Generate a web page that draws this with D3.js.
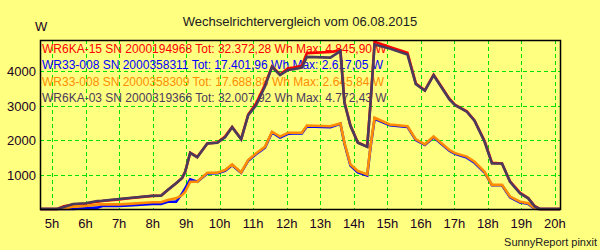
<!DOCTYPE html>
<html>
<head>
<meta charset="utf-8">
<script src="https://cdn.jsdelivr.net/npm/d3@7"></script>
<style>
  body { margin: 0; background: #ffff80; }
  svg { display: block; font-family: "Liberation Sans", Arial, sans-serif; }
</style>
</head>
<body>
<script>
const w = 600;
const h = 250;

// time of day in decimal hours
const hours = [4.65, 5.15, 5.35, 5.63, 6.0, 6.35, 6.5, 7.0, 7.3, 8.0, 8.25, 8.45, 8.7, 8.88, 8.97,
  9.12, 9.33, 9.63, 9.93, 10.16, 10.37, 10.64, 10.85, 11.08, 11.35, 11.56, 11.8, 12.04, 12.2,
  12.45, 12.6, 13.3, 13.6, 13.72, 13.9, 14.12, 14.4, 14.5, 14.62, 15.07, 15.6, 15.85, 16.12,
  16.38, 16.85, 17.02, 17.37, 17.6, 17.9, 18.12, 18.42, 18.66, 18.96, 19.2, 19.4, 19.55, 20.15];

const wr6ka15 = [0, 0, 80, 130, 150, 215, 230, 280, 310, 380, 385, 550, 750, 900, 1080,
  1630, 1510, 1900, 1930, 2100, 2380, 2030, 2740, 3050, 3600, 4130, 3900, 4080, 4100,
  4150, 4520, 4550, 4600, 3100, 2420, 1930, 1810, 3100, 4846, 4700, 4530, 3640, 3440,
  3890, 3200, 3020, 2830, 2570, 1970, 1340, 1320, 800, 470, 320, 80, 0, 0];
const wr33_311 = [0, 0, 0, 0, 20, 40, 90, 90, 100, 145, 145, 210, 210, 450, 600,
  860, 790, 1030, 1040, 1110, 1270, 1050, 1400, 1590, 1780, 2220, 2070, 2180, 2190,
  2190, 2390, 2370, 2470, 1900, 1260, 1060, 970, 1800, 2617, 2430, 2380, 2000, 1860,
  2080, 1690, 1600, 1490, 1340, 1060, 690, 690, 340, 190, 150, 10, 0, 0];
const wr33_309 = [0, 0, 0, 70, 90, 130, 135, 135, 150, 195, 195, 260, 310, 405, 500,
  790, 790, 1050, 1050, 1130, 1290, 1060, 1420, 1610, 1800, 2240, 2100, 2210, 2210,
  2210, 2420, 2400, 2480, 1920, 1290, 1100, 1000, 1830, 2646, 2450, 2400, 2020, 1875,
  2100, 1710, 1620, 1520, 1370, 1080, 700, 700, 360, 210, 165, 20, 0, 0];
const wr6ka03 = [0, 0, 60, 145, 165, 230, 240, 290, 320, 385, 385, 550, 750, 900, 1080,
  1630, 1500, 1900, 1920, 2080, 2370, 2020, 2720, 3000, 3550, 4120, 3880, 4030, 4050,
  4100, 4410, 4390, 4580, 3080, 2410, 1920, 1800, 3080, 4772, 4650, 4480, 3620, 3430,
  3880, 3180, 3010, 2820, 2560, 1950, 1320, 1320, 790, 450, 310, 70, 0, 0];

const legendLabels = [
  'WR6KA-15 SN 2000194968 Tot: 32.372,28 Wh Max: 4.845,90 W',
  'WR33-008 SN 2000358311 Tot: 17.401,96 Wh Max: 2.617,05 W',
  'WR33-008 SN 2000358309 Tot: 17.688,88 Wh Max: 2.645,84 W',
  'WR6KA-03 SN 2000319366 Tot: 32.007,92 Wh Max: 4.772,43 W'
];
const colors = ['#ff0000', '#0000ff', '#ff8c00', '#4a3b5c'];
const xTicks = d3.range(5, 21);
const yTicks = [1000, 2000, 3000, 4000];

const series = [wr6ka15, wr33_311, wr33_309, wr6ka03].map((vals, i) => ({
  label: legendLabels[i],
  color: colors[i],
  points: vals.map((v, j) => [hours[j], v])
}));

const plotLeft = 40, plotRight = 560, plotTop = 40, plotBottom = 209;

const x = d3.scaleLinear().domain([4.64, 20.15]).range([plotLeft, plotRight]);
const y = d3.scaleLinear().domain([0, 4900]).range([plotBottom, plotTop]);

const svg = d3.select('body').append('svg')
  .attr('width', w)
  .attr('height', h);

svg.append('rect')
  .attr('width', w).attr('height', h)
  .attr('fill', '#ffff80');

// grid
svg.append('g')
  .selectAll('line')
  .data(xTicks)
  .enter().append('line')
    .attr('x1', d => Math.round(x(d)) + 0.5)
    .attr('x2', d => Math.round(x(d)) + 0.5)
    .attr('y1', plotTop)
    .attr('y2', plotBottom)
    .attr('stroke', '#00e000')
    .attr('stroke-dasharray', '4,3');

svg.append('g')
  .selectAll('line')
  .data(yTicks)
  .enter().append('line')
    .attr('x1', plotLeft)
    .attr('x2', plotRight)
    .attr('y1', d => Math.round(y(d)) + 0.5)
    .attr('y2', d => Math.round(y(d)) + 0.5)
    .attr('stroke', '#00e000')
    .attr('stroke-dasharray', '4,3');

// legend text sits under the lines
svg.append('g')
  .selectAll('text')
  .data(series)
  .enter().append('text')
    .attr('x', 42)
    .attr('y', (d, i) => 53 + i * 16.3)
    .attr('font-size', 12)
    .attr('fill', d => d.color)
    .text(d => d.label);

const line = d3.line()
  .x(d => x(d[0]))
  .y(d => y(d[1]));

svg.append('g')
  .selectAll('path')
  .data(series)
  .enter().append('path')
    .attr('d', d => line(d.points))
    .attr('fill', 'none')
    .attr('stroke', d => d.color)
    .attr('stroke-width', 2.6)
    .attr('stroke-linejoin', 'miter');

// frame
svg.append('rect')
  .attr('x', plotLeft + 0.5).attr('y', plotTop + 0.5)
  .attr('width', plotRight - plotLeft).attr('height', plotBottom - plotTop)
  .attr('fill', 'none')
  .attr('stroke', '#000')
  .attr('stroke-width', 1.5);

// axis labels
svg.append('g')
  .selectAll('text')
  .data(xTicks)
  .enter().append('text')
    .attr('x', d => x(d))
    .attr('y', 228)
    .attr('text-anchor', 'middle')
    .attr('font-size', 13)
    .attr('fill', '#200020')
    .text(d => d + 'h');

svg.append('g')
  .selectAll('text')
  .data(yTicks)
  .enter().append('text')
    .attr('x', 36)
    .attr('y', d => y(d) + 5)
    .attr('text-anchor', 'end')
    .attr('font-size', 13)
    .attr('fill', '#200020')
    .text(d => d);

svg.append('text')
  .attr('x', 35).attr('y', 31)
  .attr('font-size', 13)
  .attr('fill', '#200020')
  .text('W');

svg.append('text')
  .attr('x', 300).attr('y', 26)
  .attr('text-anchor', 'middle')
  .attr('font-size', 13)
  .attr('fill', '#202020')
  .text('Wechselrichtervergleich vom 06.08.2015');

svg.append('text')
  .attr('x', 597).attr('y', 246)
  .attr('text-anchor', 'end')
  .attr('font-size', 11)
  .attr('fill', '#202020')
  .text('SunnyReport pinxit');
</script>
</body>
</html>
